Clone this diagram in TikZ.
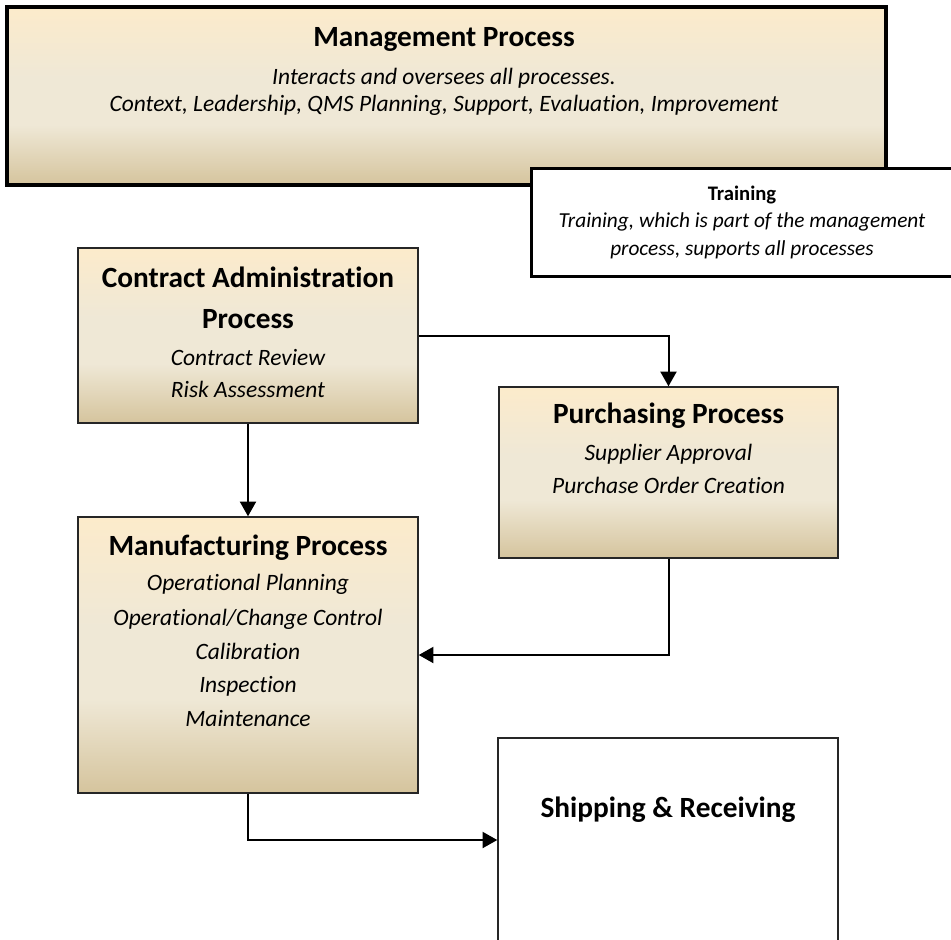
\documentclass[tikz,border=0pt]{standalone}
\usepackage{fontspec}
\setmainfont[Ligatures=NoCommon]{Carlito}
\usetikzlibrary{arrows.meta}

\definecolor{tanTop}{HTML}{FCEBCB}
\definecolor{tanMid}{HTML}{EFE8D6}
\definecolor{tanBot}{HTML}{D5C49D}
\pgfdeclareverticalshading{tanfade}{100bp}{color(0bp)=(tanBot); color(25bp)=(tanBot); color(42bp)=(tanMid); color(55bp)=(tanMid); color(75bp)=(tanTop); color(100bp)=(tanTop)}

\tikzset{
  mgmtbox/.style={draw=black, line width=3pt, shading=tanfade},
  procbox/.style={draw=black!85, line width=1.1pt, shading=tanfade},
  plainbox/.style={draw=black!85, line width=1.1pt, fill=white},
  trainbox/.style={draw=black, line width=2.3pt, fill=white},
  headtxt/.style={font=\bfseries\fontsize{22}{24}\selectfont, inner sep=0pt, anchor=base},
  itemtxt/.style={font=\itshape\fontsize{17.6}{20}\selectfont, inner sep=0pt, anchor=base},
  smallhead/.style={font=\bfseries\fontsize{15.5}{18}\selectfont, inner sep=0pt, anchor=base},
  smallitem/.style={font=\itshape\fontsize{16}{18}\selectfont, inner sep=0pt, anchor=base},
  flow/.style={line width=1.5pt, -{Triangle[length=11pt,width=12pt]}},
}

\begin{document}
\begin{tikzpicture}[x=0.75pt, y=-0.75pt]

    \useasboundingbox (0,0) rectangle (951,940);

    % management process on top
    \node [mgmtbox, minimum width=659.25pt, minimum height=133.5pt] (mgmt) at (446.5,96) {};
    \node [headtxt] (mgmtH) at (444,46) {Management Process};
    \node [itemtxt] (mgmtL1) at (444,84) {Interacts and oversees all processes.};
    \node [itemtxt] (mgmtL2) at (444,111) {Context, Leadership, QMS Planning, Support, Evaluation, Improvement};

    \node [trainbox, minimum width=318.4pt, minimum height=81pt] (train) at (743.75,222.5) {};
    \node [smallhead] (trainH) at (742,200) {Training};
    \node [smallitem] (trainL1) at (742,227) {Training, which is part of the management};
    \node [smallitem] (trainL2) at (742,255) {process, supports all processes};

    % the process boxes
    \node [procbox, minimum width=255pt, minimum height=131.25pt] (contract) at (248,335.5) {};
    \node [headtxt] (contractH1) at (248,287) {Contract Administration};
    \node [headtxt] (contractH2) at (248,328) {Process};
    \node [itemtxt] (contractL1) at (248,365) {Contract Review};
    \node [itemtxt] (contractL2) at (248,397) {Risk Assessment};

    \node [procbox, minimum width=254.25pt, minimum height=128.25pt] (purch) at (668.5,472.5) {};
    \node [headtxt] (purchH) at (668.5,423) {Purchasing Process};
    \node [itemtxt] (purchL1) at (668.5,460) {Supplier Approval};
    \node [itemtxt] (purchL2) at (668.5,493) {Purchase Order Creation};

    \node [procbox, minimum width=255pt, minimum height=207pt] (manuf) at (248,655) {};
    \node [headtxt] (manufH) at (248,555) {Manufacturing Process};
    \node [itemtxt] (manufL1) at (248,590) {Operational Planning};
    \node [itemtxt] (manufL2) at (248,625) {Operational/Change Control};
    \node [itemtxt] (manufL3) at (248,659) {Calibration};
    \node [itemtxt] (manufL4) at (248,692) {Inspection};
    \node [itemtxt] (manufL5) at (248,726) {Maintenance};

    \node [plainbox, minimum width=255pt, minimum height=153pt] (ship) at (668,840) {};
    \node [headtxt] (shipH) at (668,817) {Shipping \& Receiving};

    % flow between processes
    \draw [flow] (contract.east) -| (purch.north);
    \draw [flow] (contract.south) -- (manuf.north);
    \draw [flow] (purch.south) |- (manuf.east);
    \draw [flow] (manuf.south) |- (ship.west);

\end{tikzpicture}
\end{document}
